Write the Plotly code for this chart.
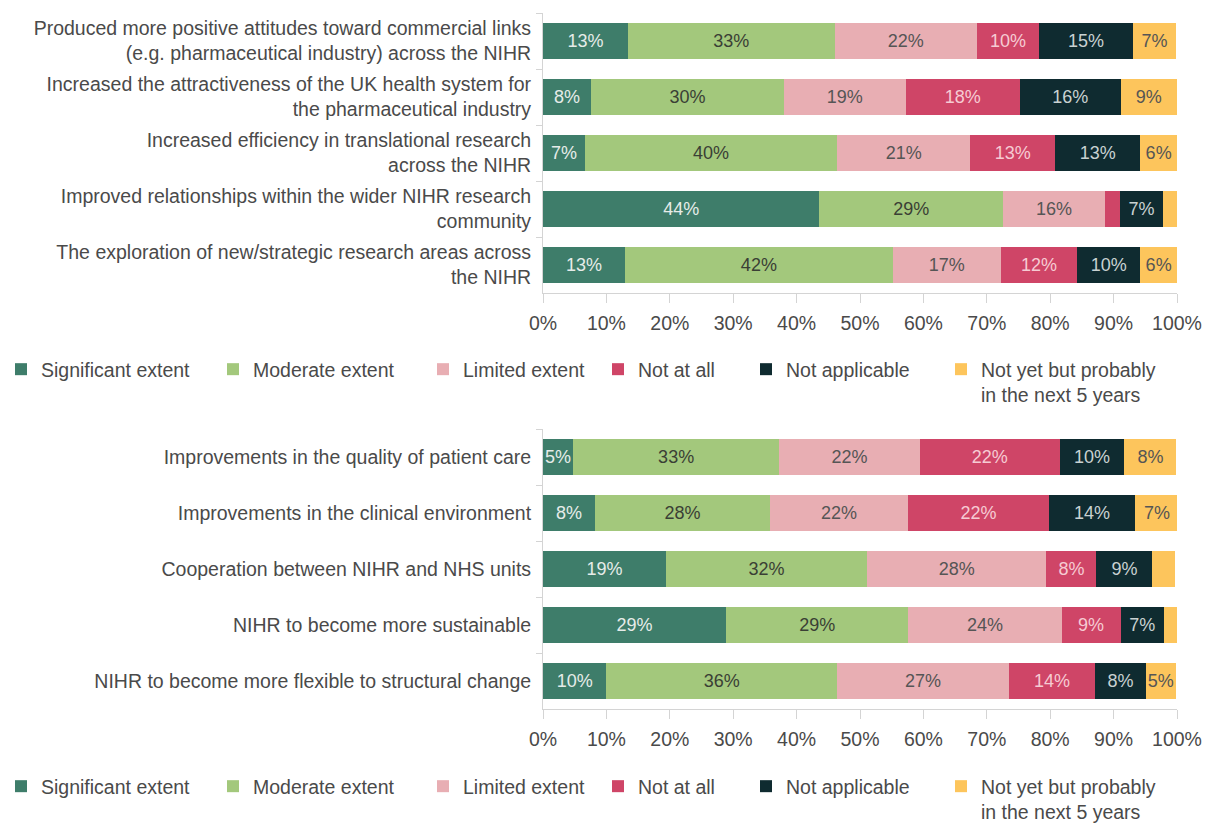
import plotly.graph_objects as go

# Categorías y series (en %)
series = ["Significant extent", "Moderate extent", "Limited extent",
          "Not at all", "Not applicable", "Not yet but probably<br>in the next 5 years"]
colores = ["#3e7d6a", "#a3c87c", "#e8aeb3", "#cf4567", "#0f2b30", "#fdc55c"]
colores_texto = ["#e6ece9", "#3a3f35", "#555555", "#f6cbd3", "#c9d2d2", "#555555"]

cat_arriba = [
    "Produced more positive attitudes toward commercial links<br>(e.g. pharmaceutical industry) across the NIHR",
    "Increased the attractiveness of the UK health system for<br>the pharmaceutical industry",
    "Increased efficiency in translational research<br>across the NIHR",
    "Improved relationships within the wider NIHR research<br>community",
    "The exploration of new/strategic research areas across<br>the NIHR",
]
sig_arriba = [13.4, 7.6, 6.6, 43.6, 12.9]
mod_arriba = [32.6, 30.4, 39.8, 29.0, 42.3]
lim_arriba = [22.4, 19.2, 21.0, 16.0, 17.0]
nada_arriba = [9.9, 18.0, 13.4, 2.4, 12.1]
na_arriba = [14.7, 15.9, 13.4, 6.8, 9.9]
aun_arriba = [6.9, 8.9, 5.8, 2.2, 5.8]

cat_abajo = [
    "Improvements in the quality of patient care",
    "Improvements in the clinical environment",
    "Cooperation between NIHR and NHS units",
    "NIHR to become more sustainable",
    "NIHR to become more flexible to structural change",
]
sig_abajo = [4.7, 8.2, 19.4, 28.9, 10.0]
mod_abajo = [32.6, 27.6, 31.7, 28.7, 36.4]
lim_abajo = [22.1, 21.8, 28.3, 24.2, 27.1]
nada_abajo = [22.1, 22.2, 7.9, 9.3, 13.6]
na_abajo = [10.2, 13.6, 8.8, 6.8, 8.0]
aun_abajo = [8.2, 6.9, 3.6, 2.2, 4.7]

ticks_x = [0, 10, 20, 30, 40, 50, 60, 70, 80, 90, 100]

FUENTE = "Liberation Sans"
GRIS = "#4a4a4a"
# la página añade 8 px de margen al body, así que la figura es algo menor que la ventana
W, H = 1206, 817

# una leyenda por elemento para respetar el espaciado irregular del original
x_leyenda = [-7, 205, 415, 590, 738, 933]   # px
y_leyenda = [342, 759]                      # px (borde superior)

fig = go.Figure()

bloques = [
    (cat_arriba, [sig_arriba, mod_arriba, lim_arriba, nada_arriba, na_arriba, aun_arriba], "x", "y"),
    (cat_abajo, [sig_abajo, mod_abajo, lim_abajo, nada_abajo, na_abajo, aun_abajo], "x2", "y2"),
]
leyendas = {}
n = 0
for b, (cats, valores, xa, ya) in enumerate(bloques):
    for i, (nombre, vals, col, coltxt) in enumerate(zip(series, valores, colores, colores_texto)):
        n += 1
        lid = "legend" if n == 1 else f"legend{n}"
        leyendas[lid] = dict(
            orientation="h", xref="paper", yref="paper",
            x=x_leyenda[i] / W, y=1 - y_leyenda[b] / H, xanchor="left", yanchor="top",
            valign="top", font=dict(size=19.5, color=GRIS, family=FUENTE),
            bgcolor="rgba(0,0,0,0)", itemclick=False, itemdoubleclick=False,
        )
        fig.add_trace(go.Bar(
            y=cats, x=vals, name=nombre, orientation="h",
            marker=dict(color=col, line=dict(width=0)),
            text=[f"{round(v)}%" if v >= 4 else "" for v in vals],
            textposition="inside", insidetextanchor="middle", textangle=0,
            textfont=dict(color=coltxt, size=18, family=FUENTE),
            xaxis=xa, yaxis=ya, legend=lid, hoverinfo="skip",
        ))

dom_x = [535 / W, 1169 / W]

eje_x = dict(range=[0, 100], tickvals=ticks_x, ticktext=[f"{v}%" for v in ticks_x],
             showgrid=False, zeroline=False, automargin=False,
             showline=True, linecolor="#d4d4d4", linewidth=1, ticks="outside", ticklen=9,
             ticklabelstandoff=4,
             tickcolor="#d4d4d4", tickfont=dict(size=19.5, color=GRIS, family=FUENTE), domain=dom_x)
eje_y = dict(autorange="reversed", showgrid=False, showline=True, linecolor="#d4d4d4", linewidth=1,
             ticks="outside", ticklen=6, tickcolor="#d4d4d4", tickson="boundaries", automargin=False,
             ticklabelstandoff=7, tickfont=dict(size=19.5, color=GRIS, family=FUENTE))

fig.update_layout(
    width=W, height=H,
    margin=dict(l=0, r=0, t=0, b=0, pad=0, autoexpand=False),
    paper_bgcolor="white", plot_bgcolor="white",
    barmode="stack", bargap=0.36,
    showlegend=True,
    uniformtext=dict(minsize=18, mode="show"),
    font=dict(family=FUENTE, color=GRIS),
    xaxis=dict(eje_x, anchor="y"),
    yaxis=dict(eje_y, domain=[1 - 285 / H, 1 - 5 / H], anchor="x"),
    xaxis2=dict(eje_x, anchor="y2"),
    yaxis2=dict(eje_y, domain=[1 - 701 / H, 1 - 421 / H], anchor="x2"),
    **leyendas,
)

fig.write_html("out.html")
